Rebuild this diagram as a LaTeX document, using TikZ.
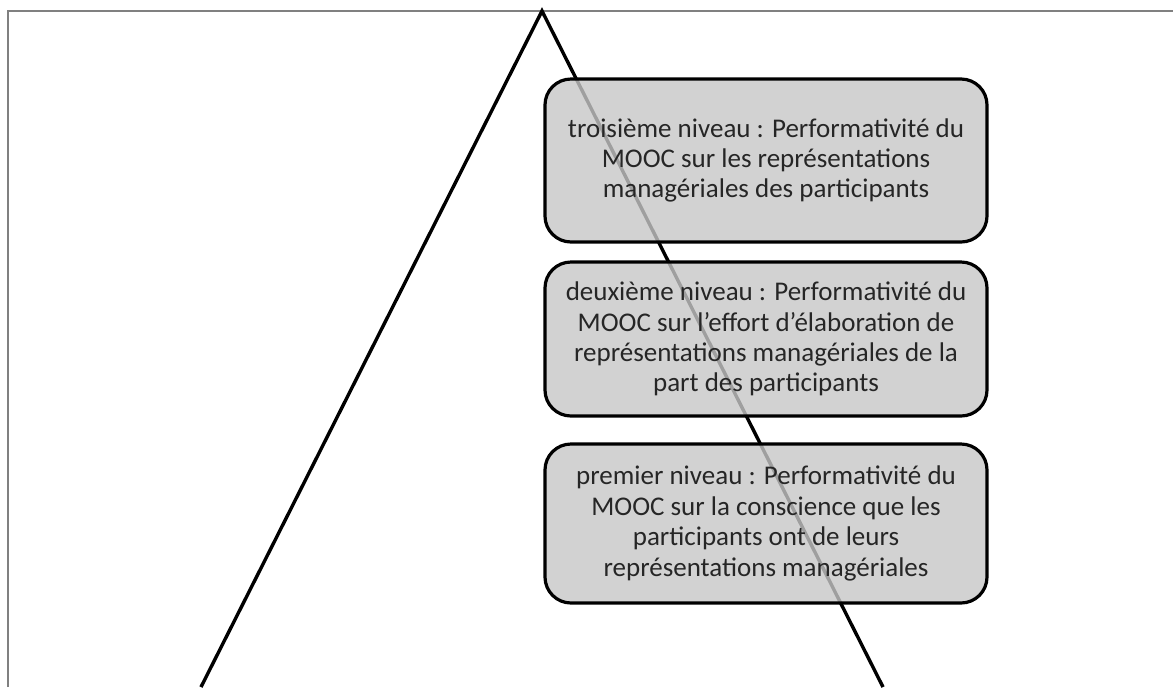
\documentclass[tikz,border=0pt]{standalone}
\usepackage{fontspec}
\setmainfont{Carlito}
\usepackage{tikz}

\tikzset{
  niveau/.style={draw=black, line width=1.6pt, fill=black!22, fill opacity=0.8,
    text opacity=1, text=black!85, rounded corners=13pt, align=center,
    minimum width=221pt, font=\fontsize{13.5}{15.2}\selectfont},
  cadre/.style={draw=gray, line width=1.2pt},
  pente/.style={draw=black, line width=1.7pt}
}

\begin{document}
\begin{tikzpicture}[x=0.5pt, y=-0.5pt]
\useasboundingbox (0,0) rectangle (1173,687);
\draw[cadre] (8,687) -- (8,11) -- (1173,11);
\coordinate (sommet) at (542,11);
\coordinate (baseg) at (201,687);
\coordinate (based) at (883,687);
\draw[pente] (baseg) -- (sommet) -- (based);
\node[niveau, minimum height=81.5pt] (troisieme) at (766,160.5)
  {troisième niveau : Performativité du\\MOOC sur les représentations\\managériales des participants};
\node[niveau, minimum height=77pt] (deuxieme) at (766,339)
  {deuxième niveau : Performativité du\\MOOC sur l’effort d’élaboration de\\représentations managériales de la\\part des participants};
\node[niveau, minimum height=79.5pt] (premier) at (766,523.5)
  {premier niveau : Performativité du\\MOOC sur la conscience que les\\participants ont de leurs\\représentations managériales};
\end{tikzpicture}
\end{document}
